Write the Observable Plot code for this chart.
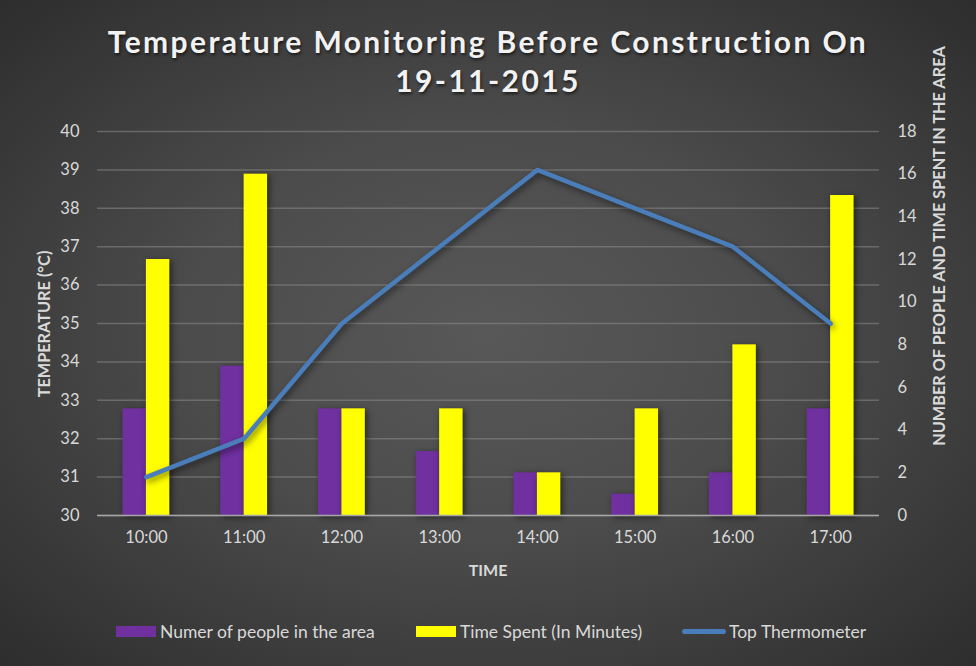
<!DOCTYPE html>
<html>
<head>
<meta charset="utf-8">
<script src="https://cdn.jsdelivr.net/npm/d3@7"></script>
<script src="https://cdn.jsdelivr.net/npm/@observablehq/plot@0.6"></script>
<style>
  html, body { margin: 0; padding: 0; }
  #wrap {
    position: relative; width: 976px; height: 666px; overflow: hidden;
    background: radial-gradient(ellipse 75% 75% at 50% 50%, #585858 0%, #4c4c4c 40%, #2a2a2a 100%);
    font-family: Lato, "Open Sans", sans-serif;
  }
  #title {
    position: absolute; left: 0; top: 22px; width: 976px; text-align: center;
    color: #f2f2f2; font-weight: 700; font-size: 30px; line-height: 39px; letter-spacing: 2.4px;
    text-shadow: 1px 2px 3px rgba(0,0,0,0.6);
  }
  #chart { position: absolute; left: 0; top: 0; }
  .ytitle { position: absolute; color: #d9d9d9; font-weight: 700; font-size: 16.3px; white-space: nowrap;
    transform: translate(-50%, -50%) rotate(-90deg); }
  #xtitle { position: absolute; left: 488px; top: 569px; transform: translate(-50%, -50%);
    color: #d9d9d9; font-weight: 700; font-size: 16px; }
  #legend { position: absolute; top: 621px; left: 0; width: 976px; height: 20px; color: #d9d9d9; font-size: 17.5px; }
  .li { position: absolute; top: 0; display: flex; align-items: center; height: 20px; white-space: nowrap; }
  .sw { width: 40px; height: 11px; margin-right: 4px; }
  .sl { width: 44px; height: 5px; border-radius: 3px; margin-right: 3px; }
  g[aria-label="bar"] { filter: drop-shadow(2px 2px 3px rgba(0,0,0,0.55)); }
  g[aria-label="line"] { filter: drop-shadow(2px 3px 3px rgba(0,0,0,0.5)); }
</style>
</head>
<body>
<div id="wrap">
  <div id="title">Temperature Monitoring Before Construction On<br>19-11-2015</div>
  <div id="chart"></div>
  <div class="ytitle" style="left:43px; top:324px;">TEMPERATURE (°C)</div>
  <div class="ytitle" style="left:938px; top:246px;">NUMBER OF PEOPLE AND TIME SPENT IN THE AREA</div>
  <div id="xtitle">TIME</div>
  <div id="legend">
    <div class="li" style="left:116px;"><div class="sw" style="background:#7030a0"></div>Numer of people in the area</div>
    <div class="li" style="left:416px;"><div class="sw" style="background:#ffff00"></div>Time Spent (In Minutes)</div>
    <div class="li" style="left:682px;"><div class="sl" style="background:#4a7ebb"></div>Top Thermometer</div>
  </div>
</div>
<script>
const times = ["10:00","11:00","12:00","13:00","14:00","15:00","16:00","17:00"];
const people = [5, 7, 5, 3, 2, 1, 2, 5];
const minutes = [12, 16, 5, 5, 2, 5, 8, 15];
const temperature = [31, 32, 35, 37, 39, 38, 37, 35];
const tempTicks = [30,31,32,33,34,35,36,37,38,39,40];
const countTicks = [0,2,4,6,8,10,12,14,16,18];

// secondary axis (0–18) mapped onto the primary temperature domain (30–40)
const countMax = 18, tMin = 30, tMax = 40;
const toTemp = c => tMin + c * (tMax - tMin) / countMax;
const fromTemp = t => Math.round((t - tMin) * countMax / (tMax - tMin));

const rows = times.map((t, i) => ({time: t, people: people[i], minutes: minutes[i], temp: temperature[i]}));

const W = 976, H = 666;
const mL = 97, mR = 97, mT = 131, mB = 151;
const padInner = 0.52;
const step = (W - mL - mR) / times.length;
const half = step * (1 - padInner) / 2;

const chart = Plot.plot({
  width: W, height: H,
  marginLeft: mL, marginRight: mR, marginTop: mT, marginBottom: mB,
  style: {background: "transparent", color: "#d9d9d9", fontFamily: "Lato, 'Open Sans', sans-serif", fontSize: "16px"},
  x: {domain: times, paddingInner: padInner, paddingOuter: padInner / 2, round: false},
  y: {domain: [tMin, tMax]},
  marks: [
    Plot.gridY(tempTicks, {stroke: "#8a8a8a", strokeOpacity: 0.55, strokeWidth: 1.5}),
    Plot.barY(rows, {x: "time", y1: tMin, y2: d => toTemp(d.people), fill: "#7030a0", insetRight: half}),
    Plot.barY(rows, {x: "time", y1: tMin, y2: d => toTemp(d.minutes), fill: "#ffff00", insetLeft: half}),
    Plot.ruleY([tMin], {stroke: "#a6a6a6", strokeWidth: 1.5}),
    Plot.line(rows, {x: "time", y: "temp", stroke: "#4a7ebb", strokeWidth: 4.5, strokeLinecap: "round", strokeLinejoin: "round"}),
    Plot.axisY(tempTicks, {anchor: "left", tickSize: 0, tickPadding: 18, label: null, fill: "#d9d9d9", fontSize: 16.5}),
    Plot.axisY(countTicks.map(toTemp), {anchor: "right", tickSize: 0, tickPadding: 18, label: null, tickFormat: fromTemp, fill: "#d9d9d9", fontSize: 16.5}),
    Plot.axisX({anchor: "bottom", tickSize: 0, tickPadding: 16, label: null, fill: "#d9d9d9", fontSize: 16.5})
  ]
});
document.getElementById("chart").appendChild(chart);
</script>
</body>
</html>
